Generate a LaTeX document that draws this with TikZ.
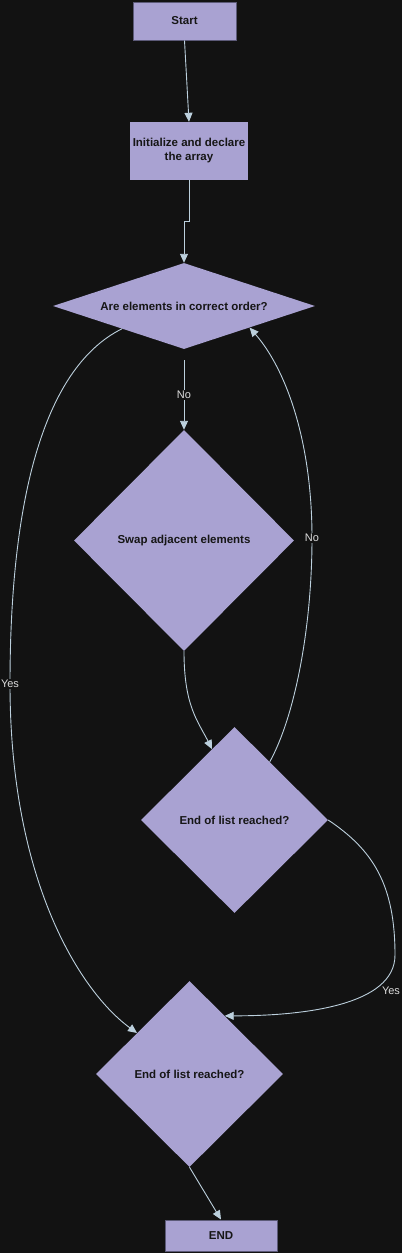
\documentclass[tikz,border=0pt]{standalone}
\usepackage{fontspec}
\setmainfont{Liberation Sans}
\usetikzlibrary{shapes.geometric,arrows.meta,calc}
\definecolor{bg}{HTML}{121212}
\definecolor{boxfill}{HTML}{A9A2D2}
\definecolor{boxline}{HTML}{5C5A78}
\definecolor{edge}{HTML}{BCD0DD}
\definecolor{lbl}{HTML}{DDDDDD}
\definecolor{txt}{HTML}{161616}
\begin{document}
\begin{tikzpicture}[x=1pt,y=-1pt,
  every node/.style={font=\fontsize{11.5}{14}\selectfont\bfseries, text=txt},
  procbox/.style={rectangle, fill=boxfill, inner sep=0pt, align=center},
  decbox/.style={diamond, fill=boxfill, inner sep=0pt, align=center},
  conn/.style={draw=edge, line width=0.9pt, -{Triangle[length=9pt,width=8pt]}},
  elabel/.style={font=\fontsize{11}{13}\selectfont, text=lbl, fill=bg, inner sep=1.5pt}
]
\useasboundingbox[fill=bg] (0,0) rectangle (402,1253);

\node[procbox, draw=boxline, line width=1pt, minimum width=103pt, minimum height=38pt] (start) at (184.5,21) {Start};
\node[procbox, minimum width=118pt, minimum height=58pt] (init) at (189,151) {Initialize and declare\\the array};
\node[decbox, aspect=3.05, minimum width=262pt, minimum height=86pt] (d1) at (184,306) {Are elements in correct order?};
\node[decbox, minimum width=220pt, minimum height=221pt] (swap) at (184,540.5) {Swap adjacent elements};
\node[decbox, minimum width=187pt, minimum height=186pt] (d2) at (234.5,820) {End of list reached?};
\node[decbox, minimum width=187pt, minimum height=186pt] (d3) at (189.5,1074) {End of list reached?};
\node[procbox, draw=boxline, line width=1pt, minimum width=112pt, minimum height=31pt] (endn) at (221,1235.5) {END};

\coordinate (d2a) at ($(d2.north)!0.24!(d2.west)$);
\coordinate (d2b) at ($(d2.north)!0.376!(d2.east)$);
\coordinate (d1r) at ($(d1.east)!0.5!(d1.south)$);
\coordinate (d1l) at ($(d1.west)!0.527!(d1.south)$);
\coordinate (d3l) at ($(d3.north)!0.56!(d3.west)$);
\coordinate (d3r) at ($(d3.north)!0.376!(d3.east)$);
\coordinate (bend) at (189,221);

\draw[conn] (start.south) -- (init.north);
\draw[conn] (init.south) -- (bend) -| (d1.north);
\draw[conn, shorten <=11pt] (d1.south) -- node[elabel, pos=0.57] {No} (swap.north);
\draw[conn] (swap.south) .. controls +(0,55) and +(-14,-28) .. (d2a);
\draw[conn] (d2b) .. controls +(25,-45) and +(0,90) .. (312,538)
  node[elabel] {No}
  .. controls +(0,-100) and +(35,40) .. (d1r);
\draw[conn] (d2.east) .. controls +(45,30) and +(0,-70) .. (395,955)
  .. controls +(0,50) and +(80,0) .. (d3r);
\node[elabel] (yesr) at (391,991) {Yes};
\draw[conn] (d1l) .. controls +(-80,40) and +(0,-180) .. (10,684)
  node[elabel] {Yes}
  .. controls +(0,200) and +(-55,-40) .. (d3l);
\draw[conn] (d3.south) -- (endn.north);
\end{tikzpicture}
\end{document}
